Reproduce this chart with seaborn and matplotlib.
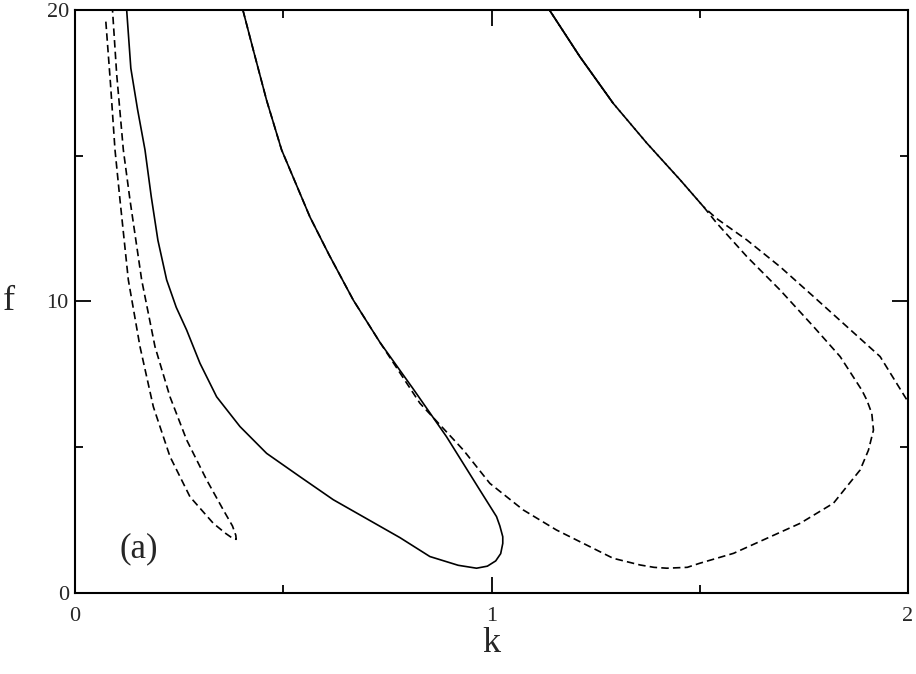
import numpy as np
import pandas as pd
import matplotlib
matplotlib.use("Agg")
import matplotlib.pyplot as plt
import seaborn as sns

# left dashed tongue (outer branch down, inner branch back up)
tongue_k = [0.074, 0.085, 0.096, 0.108, 0.128, 0.156, 0.188, 0.228, 0.276, 0.332, 0.362, 0.378, 0.387,
            0.386, 0.378, 0.356, 0.316, 0.268, 0.228, 0.192, 0.160, 0.132, 0.116, 0.100, 0.090]
tongue_f = [19.6, 17.5, 15.2, 13.48, 10.74, 8.45, 6.39, 4.68, 3.30, 2.39, 2.04, 1.88, 1.84,
            1.98, 2.30, 2.85, 3.88, 5.25, 6.73, 8.45, 10.74, 13.48, 15.2, 17.8, 20.0]

# solid loop
solid_k = [0.124, 0.134, 0.150, 0.168, 0.183, 0.199, 0.220, 0.243, 0.268, 0.300, 0.340, 0.396, 0.460, 0.540,
           0.620, 0.700, 0.780, 0.852, 0.920, 0.964, 0.990, 1.010, 1.022, 1.027, 1.027, 1.020, 1.012,
           0.972, 0.892, 0.812, 0.732, 0.668, 0.610, 0.564, 0.496, 0.460, 0.428, 0.403]
solid_f = [20.0, 18.0, 16.6, 15.2, 13.6, 12.1, 10.74, 9.80, 9.02, 7.88, 6.73, 5.71, 4.79, 3.99,
           3.20, 2.55, 1.90, 1.25, 0.95, 0.85, 0.92, 1.10, 1.35, 1.70, 1.93, 2.30, 2.62,
           3.53, 5.36, 7.0, 8.6, 10.05, 11.6, 12.9, 15.2, 16.9, 18.63, 20.0]

# dashed loop from the middle branch round to the upper right
dloop_k = [0.403, 0.428, 0.460, 0.496, 0.564, 0.610, 0.668, 0.732, 0.828, 0.932, 0.996, 1.076, 1.156,
           1.236, 1.292, 1.357, 1.390, 1.421, 1.470, 1.500, 1.581, 1.741, 1.821, 1.885, 1.905, 1.917,
           1.913, 1.901, 1.889, 1.837, 1.773, 1.693, 1.613, 1.540, 1.509, 1.453, 1.373, 1.292, 1.212, 1.139]
dloop_f = [20.0, 18.63, 16.9, 15.2, 12.9, 11.6, 10.05, 8.6, 6.51, 4.91, 3.76, 2.85, 2.16,
           1.59, 1.19, 0.96, 0.88, 0.85, 0.88, 1.02, 1.36, 2.39, 3.08, 4.22, 4.90, 5.59,
           6.16, 6.62, 6.96, 8.11, 9.14, 10.39, 11.54, 12.70, 13.25, 14.17, 15.43, 16.80, 18.40, 20.0]

# dashed branch leaving through the right edge
dright_k = [1.139, 1.212, 1.292, 1.373, 1.453, 1.509, 1.540, 1.613, 1.693, 1.773, 1.853, 1.933, 2.0]
dright_f = [20.0, 18.40, 16.80, 15.43, 14.17, 13.25, 12.85, 12.11, 11.19, 10.17, 9.14, 8.11, 6.56]

# short solid piece on top of the upper right dashed lines
stop_k = [1.139, 1.212, 1.292]
stop_f = [20.0, 18.40, 16.80]

sns.set_theme(style="ticks")
plt.rcParams['font.family'] = ['Liberation Serif', 'DejaVu Serif']

fig, ax = plt.subplots(figsize=(9.16, 6.74), dpi=100)
fig.subplots_adjust(left=0.0819, right=0.9913, top=0.9852, bottom=0.1202)

dash = (0, (4.5, 2.5))
lw = 1.2
sns.lineplot(x=tongue_k, y=tongue_f, sort=False, estimator=None, color='black', lw=lw, linestyle=dash, ax=ax)
sns.lineplot(x=solid_k, y=solid_f, sort=False, estimator=None, color='black', lw=lw, ax=ax)
sns.lineplot(x=dloop_k, y=dloop_f, sort=False, estimator=None, color='black', lw=lw, linestyle=dash, ax=ax)
sns.lineplot(x=dright_k, y=dright_f, sort=False, estimator=None, color='black', lw=lw, linestyle=dash, ax=ax)
sns.lineplot(x=stop_k, y=stop_f, sort=False, estimator=None, color='black', lw=lw, ax=ax)

ax.set_xlim(0, 2)
ax.set_ylim(0, 20)
ax.set_xticks([0, 1, 2])
ax.set_xticks([0.5, 1.5], minor=True)
ax.set_yticks([0, 10, 20])
ax.set_yticks([5, 15], minor=True)
ax.set_xticklabels(['0', '1', '2'])
ax.set_yticklabels(['0', '10', '20'])

for s in ax.spines.values():
    s.set_linewidth(1.5)
    s.set_color('black')
ax.tick_params(which='both', direction='in', top=True, right=True, width=1.3, color='black')
ax.tick_params(which='major', length=11.5)
ax.tick_params(which='minor', length=5.8)
ax.tick_params(axis='x', which='major', pad=10, labelsize=16)
ax.tick_params(axis='y', which='major', pad=4.5, labelsize=16)

ax.set_xlabel('k', fontsize=26, va='top')
ax.xaxis.set_label_coords(0.5, -0.058)
ax.set_ylabel('f', fontsize=26, rotation=0, ha='center', va='center')
ax.yaxis.set_label_coords(-0.0798, 0.5)
ax.text(0.154, 1.5, '(a)', fontsize=25, ha='center', va='center')

fig.savefig('out.png', dpi=100)
